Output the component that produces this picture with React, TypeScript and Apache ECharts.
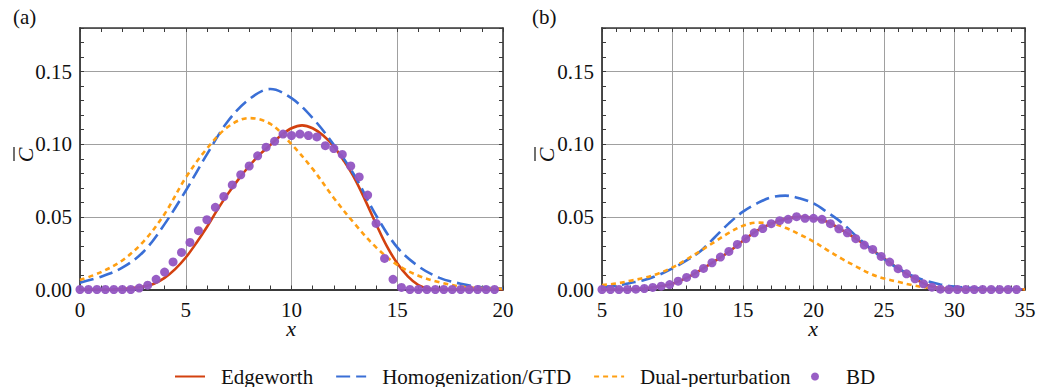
import React, { useEffect, useRef } from "react";
import * as echarts from "echarts";

const FONT = "Liberation Serif";

// ---------- Panel (a) ----------
const redXA = [0, 0.5, 1, 1.5, 2, 2.5, 3, 3.5, 4, 4.5, 5, 5.5, 6, 6.5, 7, 7.5, 8, 8.5, 9, 9.5, 10, 10.5, 11, 11.5, 12, 12.5, 13, 13.5, 14, 14.5, 15, 15.5, 16, 16.5, 17, 18, 19, 20];
const edgeworthA = [0, 0, 0, 0, 0.0004, 0.001, 0.002, 0.004, 0.008, 0.014, 0.022, 0.032, 0.043, 0.055, 0.066, 0.076, 0.085, 0.093, 0.0995, 0.106, 0.111, 0.113, 0.111, 0.106, 0.0985, 0.088, 0.076, 0.061, 0.045, 0.03, 0.018, 0.009, 0.003, 0.0005, 0, 0, 0, 0];

const lineXA = [0, 1, 2, 3, 4, 5, 6, 7, 8, 9, 10, 11, 12, 13, 14, 15, 16, 17, 18, 19, 20];
const homogA = [0.0047, 0.0088, 0.015, 0.026, 0.045, 0.068, 0.093, 0.116, 0.131, 0.138, 0.1317, 0.118, 0.0997, 0.078, 0.051, 0.029, 0.016, 0.008, 0.004, 0.0015, 0.0007];
const dualA = [0.0065, 0.012, 0.02, 0.033, 0.052, 0.077, 0.097, 0.112, 0.118, 0.114, 0.1, 0.083, 0.063, 0.045, 0.029, 0.017, 0.0095, 0.005, 0.002, 0.001, 0.0005];

const bdXA = [0, 0.4, 0.8, 1.2, 1.6, 2, 2.4, 2.8, 3.2, 3.6, 4, 4.4, 4.8, 5.2, 5.6, 6, 6.4, 6.8, 7.2, 7.6, 8, 8.4, 8.8, 9.2, 9.6, 10, 10.4, 10.8, 11.2, 11.6, 12, 12.4, 12.8, 13.2, 13.6, 14, 14.4, 14.8, 15.2, 15.6, 16, 16.4, 16.8, 17.2, 17.6, 18, 18.4, 18.8, 19.2, 19.6];
const bdA = [0, 0, 0, 0, 0, 0, 0, 0.001, 0.003, 0.007, 0.012, 0.019, 0.0255, 0.0324, 0.0405, 0.048, 0.0566, 0.064, 0.072, 0.079, 0.085, 0.092, 0.098, 0.102, 0.107, 0.106, 0.107, 0.106, 0.105, 0.099, 0.097, 0.093, 0.085, 0.0775, 0.065, 0.0455, 0.0214, 0.007, 0.0014, 0, 0, 0, 0, 0, 0, 0, 0, 0, 0, 0];

// ---------- Panel (b) ----------
const lineXB = [5, 6, 7, 8, 9, 10, 11, 12, 13, 14, 15, 16, 17, 18, 19, 20, 21, 22, 23, 24, 25, 26, 27, 28, 29, 30, 31, 32, 33, 34, 35];
const edgeworthB = [0, 0, 0.0002, 0.0007, 0.002, 0.004, 0.008, 0.0135, 0.0195, 0.026, 0.0335, 0.0405, 0.0453, 0.0485, 0.05, 0.049, 0.0465, 0.041, 0.035, 0.0285, 0.0215, 0.0145, 0.0085, 0.0033, 0.0008, 0.0001, 0, 0, 0, 0, 0];
const homogB = [0.0018, 0.0025, 0.0045, 0.0065, 0.0099, 0.0145, 0.02, 0.0265, 0.036, 0.0455, 0.0536, 0.0593, 0.0634, 0.0646, 0.0628, 0.0593, 0.053, 0.046, 0.037, 0.0285, 0.021, 0.0145, 0.0095, 0.006, 0.0035, 0.002, 0.0012, 0.0007, 0.0003, 0.0001, 0];
const dualB = [0.003, 0.0041, 0.006, 0.008, 0.011, 0.0152, 0.0207, 0.0267, 0.0329, 0.039, 0.0439, 0.046, 0.0455, 0.0425, 0.038, 0.033, 0.027, 0.0212, 0.016, 0.011, 0.0076, 0.0053, 0.003, 0.0014, 0.0005, 0.0002, 0.0001, 0, 0, 0, 0];

const bdXB = [5, 5.6, 6.2, 6.8, 7.4, 8, 8.6, 9.2, 9.8, 10.4, 11, 11.6, 12.2, 12.8, 13.4, 14, 14.6, 15.2, 15.8, 16.4, 17, 17.6, 18.2, 18.8, 19.4, 20, 20.6, 21.2, 21.8, 22.4, 23, 23.6, 24.2, 24.8, 25.4, 26, 26.6, 27.2, 27.8, 28.4, 29, 29.6, 30.2, 30.8, 31.4, 32, 32.6, 33.2, 33.8, 34.4];
const bdB = [0, 0, 0, 0, 0.0002, 0.0007, 0.0014, 0.0023, 0.0034, 0.0057, 0.0083, 0.0108, 0.0145, 0.0184, 0.0223, 0.0262, 0.031, 0.035, 0.039, 0.042, 0.0453, 0.0474, 0.0483, 0.0501, 0.049, 0.049, 0.0483, 0.0453, 0.0418, 0.039, 0.035, 0.0306, 0.0276, 0.0228, 0.0189, 0.0143, 0.0108, 0.0074, 0.0039, 0.0016, 0.0002, 0, 0, 0, 0, 0, 0, 0, 0, 0];

const seriesNames = ["Edgeworth", "Homogenization/GTD", "Dual-perturbation", "BD"];
const panelLabels = ["(a)", "(b)"];
const xRanges = [[0, 20], [5, 35]];
const yMax = 0.18;

const RED = "#d3410f";
const BLUE = "#3a6fd6";
const ORANGE = "#ff9f12";
const PURPLE = "#9255c2";
const FRAME = "#3a3a3a";
const GRIDC = "#a0a0a0";
const FS = 21;

const zip = (xs: number[], ys: number[]) => xs.map((x, i) => [x, ys[i]]);

const GRIDS = [
  { left: 80, top: 28, width: 423, height: 261.5 },
  { left: 602, top: 28, width: 423, height: 261.5 },
];

function buildAxes() {
  const xAxis: any[] = [];
  const yAxis: any[] = [];
  GRIDS.forEach((_, g) => {
    const [xmin, xmax] = xRanges[g];
    xAxis.push({
      type: "value", gridIndex: g, min: xmin, max: xmax, interval: 5, position: "bottom",
      axisLine: { show: true, onZero: false, lineStyle: { color: FRAME, width: 1.8 } },
      axisTick: { show: false },
      axisLabel: { show: true, margin: 12, lineHeight: 16, color: "#111", fontFamily: FONT, fontSize: FS },
      splitLine: { show: true, lineStyle: { color: GRIDC, width: 1 } },
    });
    xAxis.push({
      type: "value", gridIndex: g, min: xmin, max: xmax, interval: 1, position: "bottom",
      axisLine: { show: false, onZero: false },
      axisTick: { show: true, inside: true, length: 4, lineStyle: { color: FRAME, width: 1 } },
      axisLabel: { show: false }, splitLine: { show: false },
    });
    xAxis.push({
      type: "value", gridIndex: g, min: xmin, max: xmax, interval: 1, position: "top",
      axisLine: { show: true, onZero: false, lineStyle: { color: FRAME, width: 1.6 } },
      axisTick: { show: true, inside: true, length: 4, lineStyle: { color: FRAME, width: 1 } },
      axisLabel: { show: false }, splitLine: { show: false },
    });
    yAxis.push({
      type: "value", gridIndex: g, min: 0, max: yMax, interval: 0.05, position: "left",
      axisLine: { show: true, onZero: false, lineStyle: { color: FRAME, width: 1.8 } },
      axisTick: { show: false },
      axisLabel: {
        show: true, margin: 8, color: "#111", fontFamily: FONT, fontSize: FS, showMaxLabel: false,
        formatter: (v: number) => v.toFixed(2),
      },
      splitLine: { show: true, lineStyle: { color: GRIDC, width: 1 } },
    });
    yAxis.push({
      type: "value", gridIndex: g, min: 0, max: yMax, interval: 0.01, position: "left",
      axisLine: { show: false, onZero: false },
      axisTick: { show: true, inside: true, length: 4, lineStyle: { color: FRAME, width: 1 } },
      axisLabel: { show: false }, splitLine: { show: false },
    });
    yAxis.push({
      type: "value", gridIndex: g, min: 0, max: yMax, interval: 0.01, position: "right",
      axisLine: { show: true, onZero: false, lineStyle: { color: FRAME, width: 1.6 } },
      axisTick: { show: true, inside: true, length: 4, lineStyle: { color: FRAME, width: 1 } },
      axisLabel: { show: false }, splitLine: { show: false },
    });
  });
  return { xAxis, yAxis };
}

function lineSeries(name: string, g: number, data: number[][], color: string, type: any, width: number) {
  return {
    name, type: "line", xAxisIndex: g * 3, yAxisIndex: g * 3, data,
    smooth: 0.35, showSymbol: false, symbol: "none",
    lineStyle: { color, width, type },
    itemStyle: { color },
    z: 2,
  };
}

function scatterSeries(g: number, data: number[][]) {
  return {
    name: "BD", type: "scatter", xAxisIndex: g * 3, yAxisIndex: g * 3, data,
    symbol: "circle", symbolSize: 9,
    itemStyle: { color: PURPLE, opacity: 0.95 },
    z: 3,
  };
}

function overlineC(cx: number, cy: number) {
  return {
    type: "group", x: cx, y: cy, rotation: Math.PI / 2,
    children: [
      { type: "text", x: 0, y: 1, style: { text: "C", fontFamily: FONT, fontStyle: "italic", fontSize: 22, fill: "#111", align: "center", verticalAlign: "middle" } },
      { type: "line", shape: { x1: -6, y1: -10, x2: 8, y2: -10 }, style: { stroke: "#111", lineWidth: 1.2 } },
    ],
  };
}

const hiddenSym = { opacity: 0, color: "rgba(0,0,0,0)", borderWidth: 0 };
const legendText = { fontFamily: FONT, fontSize: FS, color: "#111", padding: [0, 0, 0, 11] };

export default function App() {
  const ref = useRef<HTMLDivElement>(null);
  useEffect(() => {
    if (!ref.current) return;
    const chart = echarts.init(ref.current, null, { renderer: "svg" });
    const { xAxis, yAxis } = buildAxes();
    const series: any[] = [
      lineSeries(seriesNames[0], 0, zip(redXA, edgeworthA), RED, "solid", 2.6),
      lineSeries(seriesNames[1], 0, zip(lineXA, homogA), BLUE, [14, 6], 2.6),
      lineSeries(seriesNames[2], 0, zip(lineXA, dualA), ORANGE, [5, 4], 2.6),
      scatterSeries(0, zip(bdXA, bdA)),
      lineSeries(seriesNames[0], 1, zip(lineXB, edgeworthB), RED, "solid", 2.6),
      lineSeries(seriesNames[1], 1, zip(lineXB, homogB), BLUE, [14, 6], 2.6),
      lineSeries(seriesNames[2], 1, zip(lineXB, dualB), ORANGE, [5, 4], 2.6),
      scatterSeries(1, zip(bdXB, bdB)),
    ];
    chart.setOption({
      animation: false,
      backgroundColor: "#ffffff",
      textStyle: { fontFamily: FONT },
      grid: GRIDS.map((g) => ({ ...g, containLabel: false })),
      xAxis, yAxis, series,
      legend: [
        {
          data: [
            { name: seriesNames[0], itemStyle: hiddenSym },
            { name: seriesNames[1], itemStyle: hiddenSym },
            { name: seriesNames[2], itemStyle: hiddenSym },
          ],
          left: 169, top: 361,
          itemWidth: 30, itemHeight: 8, itemGap: 22,
          textStyle: legendText,
        },
        {
          data: [seriesNames[3]],
          left: 806, top: 361,
          itemWidth: 30, itemHeight: 8,
          textStyle: legendText,
        },
      ],
      graphic: [
        { type: "text", left: 13, top: 6, style: { text: panelLabels[0], fontFamily: FONT, fontSize: FS, fill: "#111" } },
        { type: "text", left: 532, top: 6, style: { text: panelLabels[1], fontFamily: FONT, fontSize: FS, fill: "#111" } },
        overlineC(24, 155),
        overlineC(545, 155),
        { type: "text", x: 291, y: 328, style: { text: "x", fontFamily: FONT, fontStyle: "italic", fontSize: 22, lineHeight: 12, fill: "#111", align: "center", verticalAlign: "middle" } },
        { type: "text", x: 813, y: 328, style: { text: "x", fontFamily: FONT, fontStyle: "italic", fontSize: 22, lineHeight: 12, fill: "#111", align: "center", verticalAlign: "middle" } },
      ],
    });
    return () => chart.dispose();
  }, []);
  return <div ref={ref} style={{ position: "absolute", left: 0, top: 0, width: 1041, height: 387 }} />;
}
